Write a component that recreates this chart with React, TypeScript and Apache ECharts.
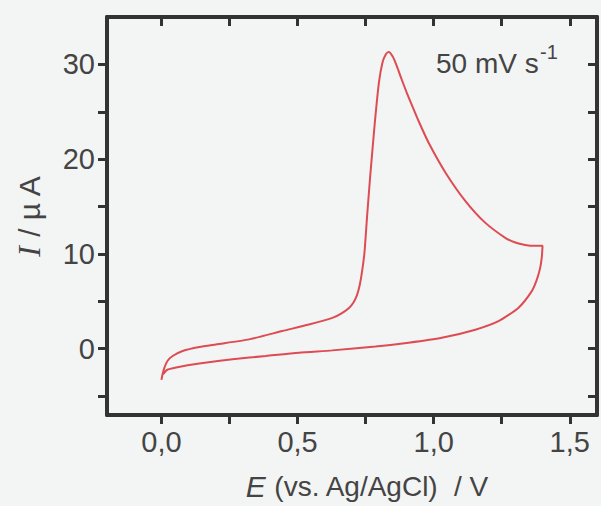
import React, { useEffect, useRef } from 'react';
import * as echarts from 'echarts';

// Forward sweep (0 V -> 1.4 V)
const forwardE = [0.000, 0.004, 0.011, 0.022, 0.041, 0.078, 0.139, 0.200, 0.322, 0.444, 0.542, 0.628, 0.660, 0.689, 0.706, 0.719, 0.729, 0.737, 0.746, 0.756, 0.768, 0.784, 0.799, 0.812, 0.825, 0.835, 0.850, 0.865, 0.880, 0.900, 0.920, 0.945, 0.982, 1.043, 1.116, 1.189, 1.263, 1.300, 1.336, 1.370, 1.400];
const forwardI = [-3.3, -2.7, -2.0, -1.3, -0.77, -0.24, 0.18, 0.45, 0.98, 1.86, 2.55, 3.25, 3.7, 4.3, 4.9, 5.7, 6.8, 8.15, 10.2, 14.2, 18.6, 23.9, 28.1, 30.2, 31.1, 31.3, 30.8, 29.8, 28.6, 27.1, 25.7, 24.0, 21.7, 18.6, 15.6, 13.3, 11.7, 11.2, 10.95, 10.85, 10.85];
// Reverse sweep (1.4 V -> 0 V)
const reverseE = [1.400, 1.397, 1.391, 1.378, 1.360, 1.311, 1.238, 1.153, 1.030, 0.908, 0.786, 0.627, 0.505, 0.384, 0.261, 0.139, 0.054, 0.020, 0.006];
const reverseI = [10.85, 9.6, 8.5, 7.2, 6.05, 4.3, 2.9, 2.0, 1.15, 0.63, 0.22, -0.18, -0.42, -0.77, -1.12, -1.57, -1.99, -2.25, -2.7];

const xTickValues = [0, 0.25, 0.5, 0.75, 1, 1.25, 1.5];
const xLabelValues = [0, 0.5, 1, 1.5];
const yTickValues = [-5, 0, 5, 10, 15, 20, 25, 30];
const yLabelValues = [0, 10, 20, 30];

const scanRateText = '50 mV s';
const scanRateSup = '-1';

export default function App() {
  const ref = useRef<HTMLDivElement>(null);
  useEffect(() => {
    const chart = echarts.init(ref.current as HTMLDivElement, null, { renderer: 'svg' });
    const data: number[][] = [
      ...forwardE.map((e, i) => [e, forwardI[i]]),
      ...reverseE.slice(1).map((e, i) => [e, reverseI[i + 1]]),
    ];
    const frameLine = { show: true, onZero: false, lineStyle: { color: '#333', width: 4 } };
    const tickStyle = { color: '#333', width: 3 };
    const sans = 'Liberation Sans, Arial, sans-serif';
    const labelFont = { fontSize: 29, color: '#444', fontFamily: sans };
    const fmt = (v: number) => v.toFixed(1).replace('.', ',');
    chart.setOption({
      animation: false,
      backgroundColor: '#f3f4f4',
      grid: { left: 107, right: 4, top: 17, bottom: 88 },
      xAxis: [
        {
          type: 'value', position: 'bottom', min: -0.2, max: 1.6,
          axisLine: frameLine,
          axisTick: { show: true, customValues: xTickValues, length: 9, inside: false, lineStyle: tickStyle },
          axisLabel: { customValues: xLabelValues, formatter: fmt, margin: 12, ...labelFont },
          splitLine: { show: false },
          name: '{e|E}{p| (vs. Ag/AgCl)}{v|  / V}',
          nameLocation: 'middle',
          nameGap: 56,
          nameTextStyle: {
            color: '#444',
            fontFamily: sans,
            padding: [0, 0, 0, 30],
            rich: {
              e: { fontSize: 30, fontStyle: 'italic', color: '#444', fontFamily: sans },
              p: { fontSize: 28, color: '#444', fontFamily: sans },
              v: { fontSize: 28, color: '#444', fontFamily: sans },
            },
          },
        },
        {
          type: 'value', position: 'top', min: -0.2, max: 1.6,
          axisLine: frameLine,
          axisTick: { show: true, customValues: xTickValues, length: 9, inside: true, lineStyle: tickStyle },
          axisLabel: { show: false },
          splitLine: { show: false },
        },
      ],
      yAxis: [
        {
          type: 'value', position: 'left', min: -7, max: 35,
          axisLine: frameLine,
          axisTick: { show: true, customValues: yTickValues, length: 9, inside: false, lineStyle: tickStyle },
          axisLabel: { customValues: yLabelValues, margin: 12, ...labelFont },
          splitLine: { show: false },
          name: '{i|I} / µ A',
          nameLocation: 'middle',
          nameGap: 62,
          nameTextStyle: {
            fontSize: 30,
            color: '#444',
            fontFamily: sans,
            rich: {
              i: { fontSize: 32, fontStyle: 'italic', color: '#444', fontFamily: 'Liberation Serif, Times New Roman, serif' },
            },
          },
        },
        {
          type: 'value', position: 'right', min: -7, max: 35,
          axisLine: frameLine,
          axisTick: { show: true, customValues: yTickValues, length: 9, inside: true, lineStyle: tickStyle },
          axisLabel: { show: false },
          splitLine: { show: false },
        },
      ],
      graphic: [
        {
          type: 'text', left: 436, top: 49,
          style: { text: scanRateText, fontSize: 28, fill: '#444', fontFamily: sans },
        },
        {
          type: 'text', left: 540, top: 42,
          style: { text: scanRateSup, fontSize: 20, fill: '#444', fontFamily: sans },
        },
      ],
      series: [
        {
          type: 'line',
          data,
          showSymbol: false,
          smooth: 0.2,
          lineStyle: { color: '#de4c53', width: 2 },
          xAxisIndex: 0,
          yAxisIndex: 0,
        },
      ],
    });
    return () => chart.dispose();
  }, []);
  return <div ref={ref} style={{ position: 'fixed', left: 0, top: 0, width: 601, height: 506 }} />;
}
